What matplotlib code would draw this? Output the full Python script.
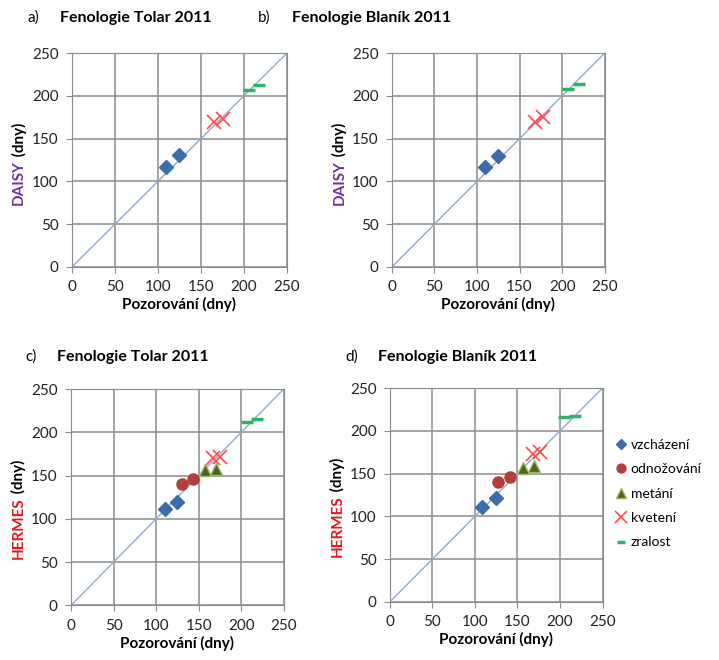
import matplotlib.pyplot as plt
from matplotlib.lines import Line2D

plt.rcParams['font.family'] = ['Lato', 'DejaVu Sans']

# observed (x) vs simulated (y) day of year, per phenological stage
# panel a) DAISY Tolar
a_vzch_x = [110, 125]
a_vzch_y = [117, 131]
a_kvet_x = [165, 176]
a_kvet_y = [170, 173]
a_zral_x = [206, 218]
a_zral_y = [207, 213]

# panel b) DAISY Blanik
b_vzch_x = [109, 125]
b_vzch_y = [117, 130]
b_kvet_x = [168, 177]
b_kvet_y = [170, 175]
b_zral_x = [207, 220]
b_zral_y = [208, 214]

# panel c) HERMES Tolar
c_vzch_x = [110, 125]
c_vzch_y = [111, 120]
c_odno_x = [130, 143]
c_odno_y = [140, 146]
c_meta_x = [157, 170]
c_meta_y = [156, 158]
c_kvet_x = [167, 175]
c_kvet_y = [170, 172]
c_zral_x = [207, 218]
c_zral_y = [212, 215]

# panel d) HERMES Blanik
d_vzch_x = [109, 125]
d_vzch_y = [111, 121]
d_odno_x = [127, 141]
d_odno_y = [140, 146]
d_meta_x = [156, 170]
d_meta_y = [157, 159]
d_kvet_x = [168, 177]
d_kvet_y = [173, 175]
d_zral_x = [205, 218]
d_zral_y = [216, 218]

ticks = [0, 50, 100, 150, 200, 250]
stages = ['vzcházení', 'odnožování', 'metání', 'kvetení', 'zralost']

styles = {
    'vzcházení': dict(marker='D', color='#3C6DAA', markersize=7, linestyle='none'),
    'odnožování': dict(marker='o', color='#B33F3C', markersize=8, linestyle='none'),
    'metání': dict(marker='^', color='#4F6228', markeredgecolor='#9BBB59',
                   markersize=9, linestyle='none'),
    'kvetení': dict(marker='x', color='#FF4B4B', markersize=10, markeredgewidth=1.2,
                    linestyle='none'),
    'zralost': dict(marker='_', color='#2DB36A', markersize=8, markeredgewidth=2.5,
                    linestyle='none'),
}

fig = plt.figure(figsize=(7.19, 6.60), dpi=100)

panels = [
    ([0.100, 0.5955, 0.299, 0.324], 'DAISY', '#7030A0',
     [('vzcházení', a_vzch_x, a_vzch_y), ('kvetení', a_kvet_x, a_kvet_y),
      ('zralost', a_zral_x, a_zral_y)]),
    ([0.545, 0.5955, 0.296, 0.324], 'DAISY', '#7030A0',
     [('vzcházení', b_vzch_x, b_vzch_y), ('kvetení', b_kvet_x, b_kvet_y),
      ('zralost', b_zral_x, b_zral_y)]),
    ([0.0987, 0.0826, 0.296, 0.328], 'HERMES', '#E8141B',
     [('vzcházení', c_vzch_x, c_vzch_y), ('odnožování', c_odno_x, c_odno_y),
      ('metání', c_meta_x, c_meta_y), ('kvetení', c_kvet_x, c_kvet_y),
      ('zralost', c_zral_x, c_zral_y)]),
    ([0.542, 0.0879, 0.296, 0.324], 'HERMES', '#E8141B',
     [('vzcházení', d_vzch_x, d_vzch_y), ('odnožování', d_odno_x, d_odno_y),
      ('metání', d_meta_x, d_meta_y), ('kvetení', d_kvet_x, d_kvet_y),
      ('zralost', d_zral_x, d_zral_y)]),
]

for rect, model, mcolor, series in panels:
    ax = fig.add_axes(rect)
    ax.set_xlim(0, 250)
    ax.set_ylim(0, 250)
    ax.set_xticks(ticks)
    ax.set_yticks(ticks)
    ax.grid(True, color='#8C8C8C', linewidth=1.1)
    ax.set_axisbelow(True)
    for s in ax.spines.values():
        s.set_color('#8C8C8C')
    ax.tick_params(colors='#8C8C8C', labelcolor='#222222', labelsize=11, length=4.5, pad=5)
    ax.plot([0, 250], [0, 250], color='#8EAAD0', linewidth=1.0, zorder=2)
    for name, xs, ys in series:
        ax.plot(xs, ys, zorder=3, **styles[name])
    ax.set_xlabel('Pozorování (dny)', fontsize=11, fontweight='bold', labelpad=2)
    # two-colour y label
    ax.text(-0.245, 0.5, model, transform=ax.transAxes, rotation=90, color=mcolor,
            fontsize=11, fontweight='bold', ha='center', va='top')
    ax.text(-0.245, 0.5, ' (dny)', transform=ax.transAxes, rotation=90, color='black',
            fontsize=11, fontweight='bold', ha='center', va='bottom')

# panel titles
fig.text(28 / 719, 1 - 18 / 660, 'a)', fontsize=11, va='center')
fig.text(60 / 719, 1 - 18 / 660, 'Fenologie Tolar 2011', fontsize=11.5,
         fontweight='bold', va='center')
fig.text(258 / 719, 1 - 18 / 660, 'b)', fontsize=11, va='center')
fig.text(292 / 719, 1 - 18 / 660, 'Fenologie Blaník 2011', fontsize=11.5,
         fontweight='bold', va='center')
fig.text(25 / 719, 1 - 357 / 660, 'c)', fontsize=11, va='center')
fig.text(57 / 719, 1 - 357 / 660, 'Fenologie Tolar 2011', fontsize=11.5,
         fontweight='bold', va='center')
fig.text(345 / 719, 1 - 357 / 660, 'd)', fontsize=11, va='center')
fig.text(378 / 719, 1 - 357 / 660, 'Fenologie Blaník 2011', fontsize=11.5,
         fontweight='bold', va='center')

handles = [Line2D([], [], **styles[n]) for n in stages]
fig.legend(handles, stages, loc='upper left', bbox_to_anchor=(603 / 719, 1 - 426 / 660),
           frameon=False, fontsize=10, handlelength=0.8, handletextpad=0.3,
           labelspacing=0.9, markerscale=0.8)

fig.savefig('out.png', dpi=100)
